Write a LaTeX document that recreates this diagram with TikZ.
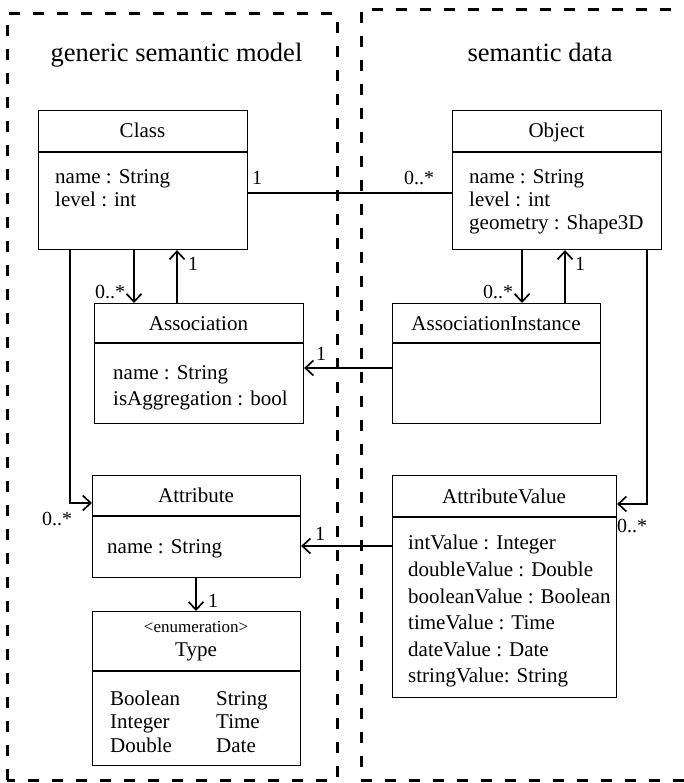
\documentclass[tikz,border=0pt]{standalone}
\usepackage{fontspec}
\setmainfont{Liberation Serif}
\usetikzlibrary{arrows.meta}
\begin{document}
\begin{tikzpicture}[x=1pt,y=-1pt,
  umlbox/.style={draw, line width=1.1pt, rectangle, inner sep=0pt, anchor=north west},
  divider/.style={line width=1.1pt},
  link/.style={line width=1.1pt},
  navlink/.style={link, -{Straight Barb[length=8pt,width=15pt,line width=1.7pt]}},
  ttl/.style={font=\fontsize{21}{25}\selectfont, anchor=base, inner sep=0pt},
  stereo/.style={font=\fontsize{17}{20}\selectfont, anchor=base, inner sep=0pt},
  attr/.style={font=\fontsize{21}{25}\selectfont, anchor=base west, inner sep=0pt},
  mult/.style={font=\fontsize{20}{24}\selectfont, anchor=base, inner sep=0pt},
  heading/.style={font=\fontsize{26.5}{30}\selectfont, anchor=base, inner sep=0pt},
  frame/.style={dash pattern=on 11pt off 13pt, line width=3pt},
]
\useasboundingbox (0,0) rectangle (683,783);

% package frames
\draw[frame] (7,780) -- (7,14) -- (337,14) -- (337,780) -- cycle;
\draw[frame] (695,10) -- (361,10) -- (361,780) -- (695,780);
\node[heading] (hmodel) at (176.5,62) {generic semantic model};
\node[heading] (hdata) at (540,62) {semantic data};

% Class
\node[umlbox, minimum width=209pt, minimum height=139pt] (class) at (38,110) {};
\draw[divider] (class.west |- 0,152) -- (class.east |- 0,152);
\node[ttl] (classT) at (142.5,138) {Class};
\node[attr] (classA1) at (55,184) {name : String};
\node[attr] (classA2) at (55,207) {level : int};

% Object
\node[umlbox, minimum width=209pt, minimum height=139pt] (object) at (452,110) {};
\draw[divider] (object.west |- 0,152) -- (object.east |- 0,152);
\node[ttl] (objectT) at (556.5,138) {Object};
\node[attr] (objectA1) at (469,184) {name : String};
\node[attr] (objectA2) at (469,207) {level : int};
\node[attr] (objectA3) at (469,230) {geometry : Shape3D};

% Association
\node[umlbox, minimum width=209pt, minimum height=120pt] (association) at (94,303) {};
\draw[divider] (association.west |- 0,343) -- (association.east |- 0,343);
\node[ttl] (associationT) at (198.5,330) {Association};
\node[attr] (associationA1) at (113,379) {name : String};
\node[attr] (associationA2) at (113,405) {isAggregation : bool};

% AssociationInstance
\node[umlbox, minimum width=208pt, minimum height=120pt] (associnst) at (392,303) {};
\draw[divider] (associnst.west |- 0,343) -- (associnst.east |- 0,343);
\node[ttl] (associnstT) at (496,330) {AssociationInstance};

% Attribute
\node[umlbox, minimum width=208pt, minimum height=102pt] (attribute) at (92,475) {};
\draw[divider] (attribute.west |- 0,516) -- (attribute.east |- 0,516);
\node[ttl] (attributeT) at (196,502) {Attribute};
\node[attr] (attributeA1) at (107,553) {name : String};

% AttributeValue
\node[umlbox, minimum width=224pt, minimum height=222pt] (attrvalue) at (392,475) {};
\draw[divider] (attrvalue.west |- 0,517) -- (attrvalue.east |- 0,517);
\node[ttl] (attrvalueT) at (504,503) {AttributeValue};
\node[attr] (avA1) at (408,549) {intValue : Integer};
\node[attr] (avA2) at (408,576) {doubleValue : Double};
\node[attr] (avA3) at (408,603) {booleanValue : Boolean};
\node[attr] (avA4) at (408,629) {timeValue : Time};
\node[attr] (avA5) at (408,656) {dateValue : Date};
\node[attr] (avA6) at (408,682) {stringValue: String};

% Type enumeration
\node[umlbox, minimum width=208pt, minimum height=154pt] (type) at (92,611) {};
\draw[divider] (type.west |- 0,671) -- (type.east |- 0,671);
\node[stereo] (typeS) at (196,632) {<enumeration>};
\node[ttl] (typeT) at (196,656) {Type};
\node[attr] (typeL1) at (110,705) {Boolean};
\node[attr] (typeL2) at (110,728.5) {Integer};
\node[attr] (typeL3) at (110,752) {Double};
\node[attr] (typeR1) at (216,705) {String};
\node[attr] (typeR2) at (216,728.5) {Time};
\node[attr] (typeR3) at (216,752) {Date};

% associations
\draw[link] (class.east |- 0,193) -- (object.west |- 0,193);
\draw[navlink] (class.south -| 134,0) -- (association.north -| 134,0);
\draw[navlink] (association.north -| 177,0) -- (class.south -| 177,0);
\draw[navlink] (class.south -| 70,0) |- (attribute.west |- 0,503);
\draw[navlink] (object.south -| 522,0) -- (associnst.north -| 522,0);
\draw[navlink] (associnst.north -| 565,0) -- (object.south -| 565,0);
\draw[navlink] (object.south -| 647,0) |- (attrvalue.east |- 0,504);
\draw[navlink] (associnst.west |- 0,368) -- (association.east |- 0,368);
\draw[navlink] (attrvalue.west |- 0,546) -- (attribute.east |- 0,546);
\draw[navlink] (attribute.south -| 196,0) -- (type.north -| 196,0);

% multiplicities
\node[mult] (m1) at (257,185) {1};
\node[mult] (m2) at (419,185) {0..*};
\node[mult] (m3) at (110,298) {0..*};
\node[mult] (m4) at (193,270) {1};
\node[mult] (m5) at (498,298) {0..*};
\node[mult] (m6) at (580,270) {1};
\node[mult] (m7) at (321,360) {1};
\node[mult] (m8) at (57,525) {0..*};
\node[mult] (m9) at (320,540) {1};
\node[mult] (m10) at (213,607) {1};
\node[mult] (m11) at (632,532) {0..*};
\end{tikzpicture}
\end{document}
